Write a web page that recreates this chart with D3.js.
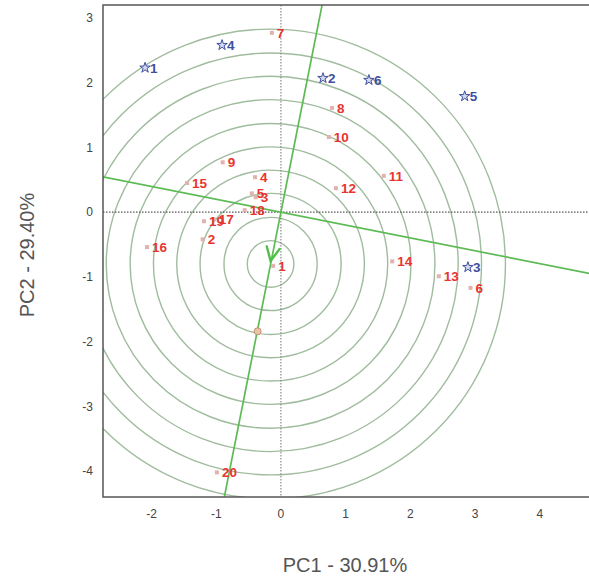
<!DOCTYPE html>
<html>
<head>
<meta charset="utf-8">
<script src="https://cdn.jsdelivr.net/npm/d3@7"></script>
<style>
  body { margin: 0; background: #fff; }
  text { font-family: "Liberation Sans", Arial, sans-serif; }
</style>
</head>
<body>
<div id="chart"></div>
<script>
// genotype scores (PC1, PC2)
var genoLabels = ['1','2','3','4','5','6','7','8','9','10','11','12','13','14','15','16','17','18','19','20'];
var genoPC1 = [-0.12, -1.21, -0.39, -0.40, -0.45, 2.93, -0.14, 0.79, -0.90, 0.74, 1.59, 0.85, 2.44, 1.72, -1.45, -2.07, -1.04, -0.56, -1.19, -0.99];
var genoPC2 = [-0.83, -0.42, 0.23, 0.54, 0.29, -1.17, 2.77, 1.61, 0.77, 1.16, 0.56, 0.37, -0.99, -0.76, 0.45, -0.54, -0.11, 0.03, -0.14, -4.02];

// environment scores
var envLabels = ['1','2','3','4','5','6'];
var envPC1 = [-2.10, 0.65, 2.89, -0.91, 2.84, 1.36];
var envPC2 = [2.23, 2.07, -0.85, 2.58, 1.79, 2.04];

// average environment axis direction and ideal point
var aeaDir = [0.195, 0.981];
var ringCenter = [-0.16, -0.80];
var ringRadii = [0.36, 0.72, 1.09, 1.45, 1.81, 2.17, 2.54, 2.90, 3.26, 3.63];
var extraPoint = [-0.36, -1.84];

var xTicks = [-2, -1, 0, 1, 2, 3, 4];
var yTicks = [-4, -3, -2, -1, 0, 1, 2, 3];

var width = 589, height = 581;
var svg = d3.select('#chart').append('svg')
    .attr('width', width)
    .attr('height', height);

var x = d3.scaleLinear().domain([-2.75, 4.8]).range([103, 591.5]);
var y = d3.scaleLinear().domain([-4.4, 3.2]).range([497, 5]);
var unit = x(1) - x(0);

svg.append('clipPath').attr('id', 'plotclip')
  .append('rect')
    .attr('x', x(-2.75)).attr('y', y(3.2))
    .attr('width', x(4.8) - x(-2.75)).attr('height', y(-4.4) - y(3.2));

var plot = svg.append('g').attr('clip-path', 'url(#plotclip)');

// concentric rings
plot.selectAll('circle.ring')
  .data(ringRadii)
  .enter()
  .append('circle')
    .attr('class', 'ring')
    .attr('cx', x(ringCenter[0]))
    .attr('cy', y(ringCenter[1]))
    .attr('r', d => d * unit)
    .attr('fill', 'none')
    .attr('stroke', '#a0bc9e')
    .attr('stroke-width', 1.4);

// zero lines
plot.append('line')
    .attr('x1', x(-2.75)).attr('x2', x(4.8))
    .attr('y1', y(0)).attr('y2', y(0))
    .attr('stroke', '#555').attr('stroke-width', 1.2)
    .attr('stroke-dasharray', '1.5,1.5');
plot.append('line')
    .attr('x1', x(0)).attr('x2', x(0))
    .attr('y1', y(3.2)).attr('y2', y(-4.4))
    .attr('stroke', '#777').attr('stroke-width', 1)
    .attr('stroke-dasharray', '1.5,1.5');

// AEA line and its perpendicular
var L = 10;
plot.append('line')
    .attr('x1', x(-aeaDir[0] * L)).attr('y1', y(-aeaDir[1] * L))
    .attr('x2', x(aeaDir[0] * L)).attr('y2', y(aeaDir[1] * L))
    .attr('stroke', '#5dba55').attr('stroke-width', 1.7);
plot.append('line')
    .attr('x1', x(-aeaDir[1] * L)).attr('y1', y(aeaDir[0] * L))
    .attr('x2', x(aeaDir[1] * L)).attr('y2', y(-aeaDir[0] * L))
    .attr('stroke', '#5dba55').attr('stroke-width', 1.7);

// arrow head on the AEA
var tip = [x(ringCenter[0]), y(ringCenter[1]) - 3];
var ang = Math.atan2(aeaDir[1], aeaDir[0]);
var arm = 15, spread = 0.45;
var arrowPts = [
  [tip[0] + arm * Math.cos(ang + spread), tip[1] - arm * Math.sin(ang + spread)],
  tip,
  [tip[0] + arm * Math.cos(ang - spread), tip[1] - arm * Math.sin(ang - spread)]
];
plot.append('path')
    .attr('d', d3.line()(arrowPts))
    .attr('fill', 'none')
    .attr('stroke', '#4fc04a')
    .attr('stroke-width', 2.4)
    .attr('stroke-linecap', 'round');

// extra unlabeled point
plot.append('circle')
    .attr('cx', x(extraPoint[0])).attr('cy', y(extraPoint[1]))
    .attr('r', 3.5)
    .attr('fill', '#e8c4a8').attr('stroke', '#c49070').attr('stroke-width', 1);

// genotypes
var geno = genoLabels.map((d, i) => ({label: d, x: genoPC1[i], y: genoPC2[i]}));
var gg = plot.selectAll('g.geno')
  .data(geno)
  .enter()
  .append('g')
    .attr('class', 'geno')
    .attr('transform', d => `translate(${x(d.x)},${y(d.y)})`);
gg.append('rect')
    .attr('x', -2).attr('y', -2)
    .attr('width', 4).attr('height', 4)
    .attr('fill', '#e2b2ae');
gg.append('text')
    .attr('x', 5).attr('dy', '0.36em')
    .attr('font-size', 13.5)
    .attr('font-weight', 'bold')
    .attr('fill', '#e8342f')
    .text(d => d.label);

// environments
var env = envLabels.map((d, i) => ({label: d, x: envPC1[i], y: envPC2[i]}));
var eg = plot.selectAll('g.env')
  .data(env)
  .enter()
  .append('g')
    .attr('class', 'env')
    .attr('transform', d => `translate(${x(d.x)},${y(d.y)})`);
eg.append('path')
    .attr('d', d3.symbol().type(d3.symbolStar).size(34))
    .attr('fill', '#d4d8f0')
    .attr('stroke', '#3e4f9e')
    .attr('stroke-width', 1);
eg.append('text')
    .attr('x', 5).attr('dy', '0.36em')
    .attr('font-size', 13.5)
    .attr('font-weight', 'bold')
    .attr('fill', '#3e4f9e')
    .text(d => d.label);

// frame
svg.append('rect')
    .attr('x', x(-2.75)).attr('y', y(3.2))
    .attr('width', x(4.8) - x(-2.75)).attr('height', y(-4.4) - y(3.2))
    .attr('fill', 'none')
    .attr('stroke', '#555')
    .attr('stroke-width', 1.5);

// tick labels
svg.append('g').selectAll('text')
  .data(xTicks)
  .enter()
  .append('text')
    .attr('x', d => x(d))
    .attr('y', 518)
    .attr('text-anchor', 'middle')
    .attr('font-size', 12)
    .attr('fill', '#444')
    .text(d => d);
svg.append('g').selectAll('text')
  .data(yTicks)
  .enter()
  .append('text')
    .attr('x', 93)
    .attr('y', d => y(d))
    .attr('dy', '0.36em')
    .attr('text-anchor', 'end')
    .attr('font-size', 12)
    .attr('fill', '#444')
    .text(d => d);

// axis titles
svg.append('text')
    .attr('x', 345).attr('y', 572)
    .attr('text-anchor', 'middle')
    .attr('font-size', 20)
    .attr('fill', '#555')
    .text('PC1 - 30.91%');
svg.append('text')
    .attr('transform', 'translate(34,255) rotate(-90)')
    .attr('text-anchor', 'middle')
    .attr('font-size', 20)
    .attr('fill', '#555')
    .text('PC2 - 29.40%');
</script>
</body>
</html>
